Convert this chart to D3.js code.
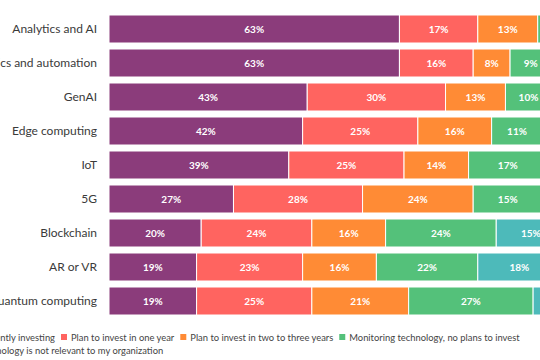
<!DOCTYPE html>
<html>
<head>
<meta charset="utf-8">
<script src="https://cdn.jsdelivr.net/npm/d3@7"></script>
<style>
  body { margin: 0; background: #fff; }
  svg { display: block; font-family: Lato, sans-serif; }
</style>
</head>
<body>
<div id="chart"></div>
<script>
// chart values
var categories = ["Analytics and AI", "Robotics and automation", "GenAI", "Edge computing",
  "IoT", "5G", "Blockchain", "AR or VR", "Quantum computing"];
var currentlyInvesting = [63, 63, 43, 42, 39, 27, 20, 19, 19];
var planOneYear = [17, 16, 30, 25, 25, 28, 24, 23, 25];
var planTwoThree = [13, 8, 13, 16, 14, 24, 16, 16, 21];
var monitoring = [4, 9, 10, 11, 17, 15, 24, 22, 27];
var notRelevant = [3, 4, 4, 6, 5, 6, 15, 18, 8];
var seriesNames = ["Currently investing", "Plan to invest in one year",
  "Plan to invest in two to three years", "Monitoring technology, no plans to invest",
  "Technology is not relevant to my organization"];

var colors = ["#8b3c7b", "#ff6460", "#ff8b35", "#54c17a", "#4dbaba"];

var width = 540, height = 360;

var svg = d3.select("#chart").append("svg")
  .attr("width", width)
  .attr("height", height);

// build table for stacking
var keys = ["s0", "s1", "s2", "s3", "s4"];
var table = categories.map(function(c, i) {
  return { cat: c, s0: currentlyInvesting[i], s1: planOneYear[i], s2: planTwoThree[i],
    s3: monitoring[i], s4: notRelevant[i] };
});
var stacked = d3.stack().keys(keys)(table);

var x = d3.scaleLinear().domain([0, 100]).range([109, 570]);
var y = d3.scaleBand().domain(categories).range([15, 315]).paddingInner(6 / 34);

var color = d3.scaleOrdinal().domain(keys).range(colors);

var groups = svg.selectAll("g.series")
  .data(stacked)
  .enter().append("g")
  .attr("class", "series")
  .attr("fill", function(d) { return color(d.key); });

groups.selectAll("rect")
  .data(function(d) { return d; })
  .enter().append("rect")
  .attr("x", function(d) { return x(d[0]); })
  .attr("y", function(d) { return y(d.data.cat); })
  .attr("width", function(d) { return x(d[1]) - x(d[0]); })
  .attr("height", y.bandwidth())
  .attr("stroke", "#fff")
  .attr("stroke-width", 1);

// value labels (tiny slivers get none)
groups.selectAll("text")
  .data(function(d) { return d.filter(function(s) { return s[1] - s[0] >= 5; }); })
  .enter().append("text")
  .attr("x", function(d) { return (x(d[0]) + x(d[1])) / 2; })
  .attr("y", function(d) { return y(d.data.cat) + y.bandwidth() / 2; })
  .attr("dy", "0.35em")
  .attr("text-anchor", "middle")
  .attr("fill", "#fff")
  .style("font-size", "10px")
  .style("font-weight", "bold")
  .text(function(d) { return (d[1] - d[0]) + "%"; });

// category axis
var yAxis = svg.append("g")
  .attr("transform", "translate(109,0)")
  .call(d3.axisLeft(y).tickSize(0).tickPadding(12));
yAxis.select(".domain").remove();
yAxis.selectAll("text")
  .attr("fill", "#3a3a3a")
  .style("font-size", "12px")
  .style("font-family", "Lato, sans-serif");

// legend, two lines, flowing
var legend = svg.append("g").attr("class", "legend");
var sq = 6, gapText = 4, gapItem = 6, legendSize = "9.4px";
var lines = [[0, 1, 2, 3], [4]];
var baselines = [341, 354];

// measure first item so the red square lands where it does in the original
var probe = legend.append("text").style("font-size", legendSize).text(seriesNames[0]);
var firstW = probe.node().getComputedTextLength();
probe.remove();
var x0 = 61 - (sq + gapText + firstW + gapItem);

lines.forEach(function(items, li) {
  var cx = x0;
  items.forEach(function(k) {
    legend.append("rect")
      .attr("x", cx)
      .attr("y", baselines[li] - 7)
      .attr("width", sq)
      .attr("height", sq)
      .attr("fill", colors[k]);
    var t = legend.append("text")
      .attr("x", cx + sq + gapText)
      .attr("y", baselines[li])
      .attr("fill", "#444")
      .style("font-size", legendSize)
      .text(seriesNames[k]);
    cx += sq + gapText + t.node().getComputedTextLength() + gapItem;
  });
});
</script>
</body>
</html>
